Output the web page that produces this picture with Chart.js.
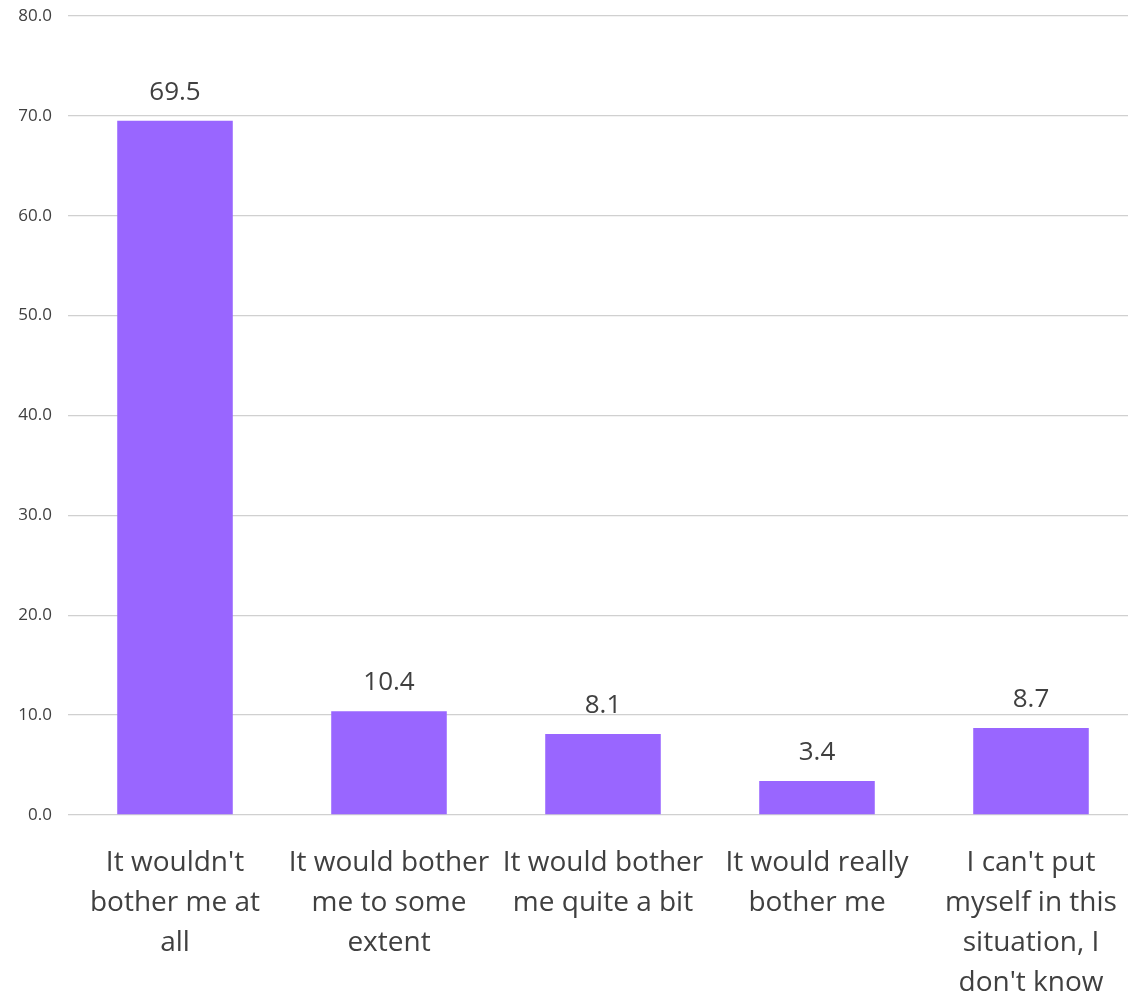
<!DOCTYPE html>
<html>
<head>
<meta charset="utf-8">
<script src="https://cdn.jsdelivr.net/npm/chart.js@4/dist/chart.umd.min.js"></script>
<style>
  html, body { margin: 0; padding: 0; background: #fff; overflow: hidden; }
  #wrap { width: 1138px; height: 998px; }
</style>
</head>
<body>
<div id="wrap"><canvas id="graphique"></canvas></div>
<script>
// categories (one line per array entry)
const categories = [
  ["It wouldn't", "bother me at", "all"],
  ["It would bother", "me to some", "extent"],
  ["It would bother", "me quite a bit"],
  ["It would really", "bother me"],
  ["I can't put", "myself in this", "situation, I", "don't know"]
];
const valeurs = [69.5, 10.4, 8.1, 3.4, 8.7];
const ticksY = [0, 10, 20, 30, 40, 50, 60, 70, 80];

// etiquettes au dessus des barres
const etiquettes = {
  id: "etiquettes",
  afterDatasetsDraw(chart) {
    const ctx = chart.ctx;
    const meta = chart.getDatasetMeta(0);
    ctx.save();
    ctx.font = "26px 'Open Sans'";
    ctx.fillStyle = "#404040";
    ctx.textAlign = "center";
    ctx.textBaseline = "alphabetic";
    meta.data.forEach((bar, i) => {
      ctx.fillText(valeurs[i].toFixed(1), bar.x, bar.y - 21);
    });
    ctx.restore();
  }
};

const data = {
  labels: categories,
  datasets: [{
    data: valeurs,
    backgroundColor: "#9966ff",
    barPercentage: 0.54,
    categoryPercentage: 1
  }]
};

const config = {
  type: "bar",
  data: data,
  plugins: [etiquettes],
  options: {
    responsive: true,
    maintainAspectRatio: false,
    animation: false,
    layout: { padding: { top: 16, right: 0, left: 0, bottom: 0 } },
    plugins: { legend: { display: false }, tooltip: { enabled: false } },
    scales: {
      x: {
        grid: { display: false },
        border: { display: false },
        ticks: {
          color: "#404040",
          font: { family: "'Open Sans'", size: 28, lineHeight: 1.43 },
          padding: 20,
          maxRotation: 0,
          autoSkip: false
        },
        afterFit(scale) {
          scale.height = 183;
          scale.paddingLeft = 0;
          scale.paddingRight = 0;
        }
      },
      y: {
        min: 0,
        max: 80,
        afterBuildTicks(scale) { scale.ticks = ticksY.map(v => ({ value: v })); },
        grid: { color: "#d0d0d0", lineWidth: 1.3, drawTicks: false },
        border: { display: false },
        ticks: {
          color: "#404040",
          font: { family: "'Open Sans'", size: 17 },
          padding: 16,
          callback: v => v.toFixed(1)
        },
        afterFit(scale) {
          scale.width = 68;
          scale.paddingTop = 0;
          scale.paddingBottom = 0;
        }
      }
    }
  }
};

const graphique = new Chart(document.querySelector("#graphique"), config);
</script>
</body>
</html>
